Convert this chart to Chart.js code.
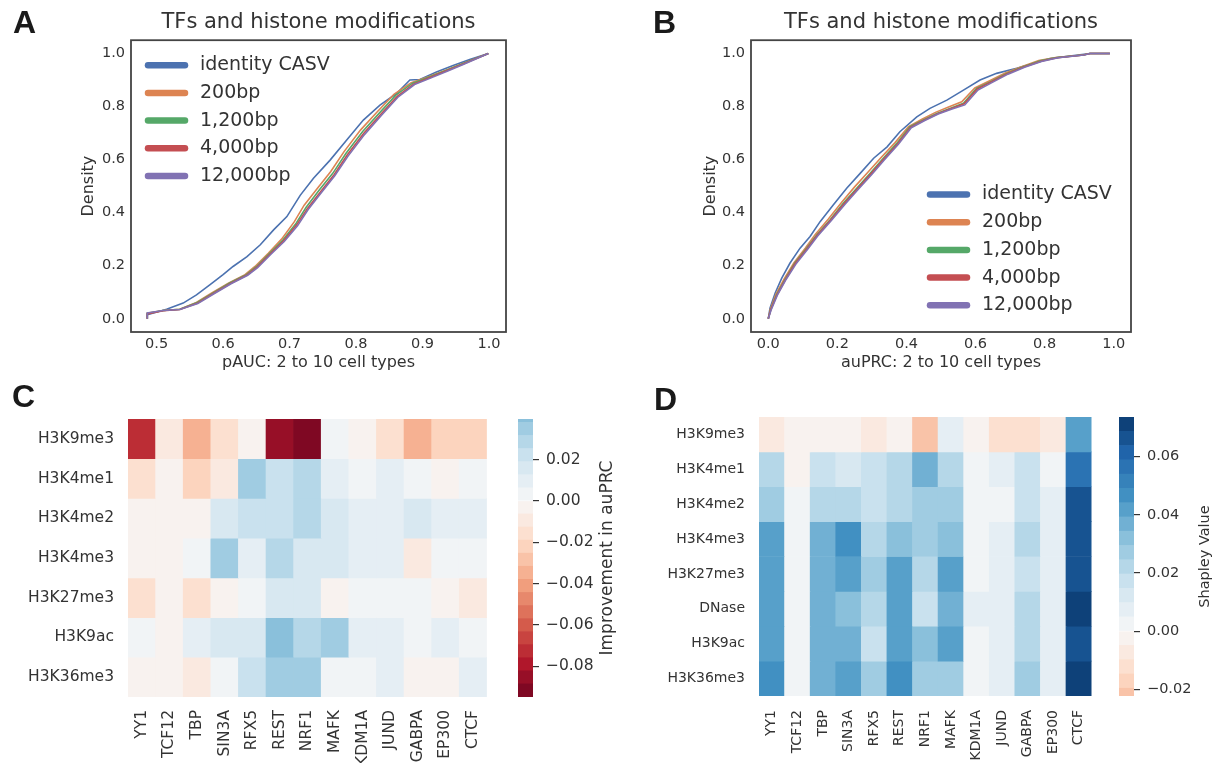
<!DOCTYPE html>
<html>
<head>
<meta charset="utf-8">
<script src="https://cdn.jsdelivr.net/npm/chart.js@4.4.1/dist/chart.umd.min.js"></script>
<style>
  body { margin: 0; background: #fff; }
  #page { position: relative; width: 1213px; height: 763px; overflow: hidden; background: #fff; }
  canvas { position: absolute; }
  .tag { position: absolute; font-family: 'Liberation Sans', Arial, sans-serif; font-weight: bold;
         font-size: 32px; line-height: 32px; color: #1a1a1a; }
</style>
</head>
<body>
<div id="page">
  <canvas id="chartA" width="600" height="380" style="left:0;top:0"></canvas>
  <canvas id="chartB" width="593" height="380" style="left:620px;top:0"></canvas>
  <canvas id="chartC" width="505" height="383" style="left:0;top:380px"></canvas>
  <canvas id="barC" width="100" height="383" style="left:518px;top:380px"></canvas>
  <canvas id="chartD" width="490" height="383" style="left:620px;top:380px"></canvas>
  <canvas id="barD" width="94" height="383" style="left:1119px;top:380px"></canvas>
  <div class="tag" style="left:13px;top:6px">A</div>
  <div class="tag" style="left:653px;top:6px">B</div>
  <div class="tag" style="left:12px;top:380px">C</div>
  <div class="tag" style="left:654px;top:383px">D</div>
</div>
<script>
// ---- data ----
var curveNames = ['identity CASV', '200bp', '1,200bp', '4,000bp', '12,000bp'];
var curveColors = ['#4c72b0', '#dd8452', '#55a868', '#c44e52', '#8172b3'];

// panel A: pAUC ECDF, [x, y]
var paucIdentity = [[0.486,0.0],[0.486,0.015],[0.515,0.036],[0.540,0.059],[0.560,0.090],[0.580,0.128],[0.600,0.166],[0.615,0.197],[0.636,0.234],[0.656,0.279],[0.676,0.335],[0.696,0.385],[0.716,0.465],[0.736,0.530],[0.761,0.598],[0.786,0.674],[0.811,0.749],[0.836,0.805],[0.861,0.849],[0.881,0.900],[0.896,0.902],[0.921,0.930],[0.946,0.955],[0.971,0.977],[0.999,1.0]];
var pauc200 = [[0.486,0.0],[0.486,0.021],[0.510,0.031],[0.535,0.036],[0.558,0.059],[0.583,0.097],[0.608,0.134],[0.633,0.166],[0.648,0.197],[0.668,0.247],[0.688,0.300],[0.707,0.365],[0.722,0.428],[0.742,0.492],[0.762,0.555],[0.782,0.630],[0.807,0.712],[0.832,0.780],[0.857,0.846],[0.883,0.890],[0.910,0.913],[0.936,0.938],[0.961,0.962],[0.999,1.0]];
var pauc1200 = [[0.486,0.0],[0.486,0.020],[0.510,0.031],[0.535,0.036],[0.560,0.060],[0.585,0.097],[0.610,0.135],[0.635,0.166],[0.650,0.196],[0.670,0.247],[0.690,0.297],[0.710,0.360],[0.725,0.420],[0.745,0.486],[0.765,0.548],[0.785,0.624],[0.810,0.706],[0.835,0.775],[0.860,0.843],[0.885,0.888],[0.911,0.912],[0.936,0.937],[0.961,0.962],[0.999,1.0]];
var pauc4000 = [[0.486,0.0],[0.486,0.018],[0.510,0.030],[0.535,0.035],[0.561,0.058],[0.586,0.096],[0.611,0.133],[0.636,0.165],[0.651,0.195],[0.671,0.245],[0.691,0.294],[0.711,0.355],[0.727,0.416],[0.747,0.480],[0.767,0.543],[0.787,0.618],[0.812,0.700],[0.837,0.770],[0.862,0.838],[0.887,0.885],[0.912,0.910],[0.937,0.936],[0.962,0.961],[0.999,1.0]];
var pauc12000 = [[0.486,0.0],[0.486,0.022],[0.510,0.031],[0.535,0.035],[0.562,0.057],[0.587,0.095],[0.612,0.132],[0.637,0.164],[0.652,0.193],[0.672,0.243],[0.692,0.291],[0.712,0.350],[0.728,0.412],[0.748,0.476],[0.768,0.539],[0.788,0.613],[0.813,0.695],[0.838,0.766],[0.863,0.835],[0.888,0.883],[0.913,0.908],[0.938,0.934],[0.963,0.960],[0.999,1.0]];

// panel B: auPRC ECDF, [x, y]
var auprcIdentity = [[0,0],[0.005,0.040],[0.020,0.097],[0.039,0.153],[0.063,0.210],[0.092,0.266],[0.121,0.310],[0.150,0.366],[0.188,0.429],[0.227,0.492],[0.266,0.548],[0.305,0.605],[0.344,0.648],[0.381,0.705],[0.430,0.761],[0.468,0.793],[0.517,0.824],[0.565,0.862],[0.613,0.900],[0.661,0.925],[0.719,0.944],[0.767,0.962],[0.816,0.981],[0.873,0.990],[0.931,1.0],[0.989,1.0]];
var auprc200 = [[0,0],[0.006,0.036],[0.022,0.092],[0.046,0.150],[0.074,0.210],[0.107,0.266],[0.136,0.318],[0.174,0.376],[0.212,0.438],[0.250,0.497],[0.289,0.553],[0.328,0.610],[0.367,0.664],[0.406,0.724],[0.445,0.752],[0.484,0.778],[0.522,0.798],[0.560,0.818],[0.598,0.870],[0.638,0.895],[0.686,0.926],[0.735,0.951],[0.783,0.973],[0.832,0.985],[0.910,0.994],[0.931,1.0],[0.989,1.0]];
var auprc1200 = [[0,0],[0.007,0.034],[0.024,0.090],[0.048,0.147],[0.077,0.210],[0.111,0.266],[0.140,0.316],[0.179,0.373],[0.217,0.435],[0.256,0.492],[0.295,0.548],[0.333,0.605],[0.372,0.661],[0.410,0.724],[0.449,0.749],[0.488,0.774],[0.526,0.793],[0.565,0.812],[0.603,0.868],[0.642,0.893],[0.690,0.925],[0.738,0.950],[0.787,0.972],[0.835,0.985],[0.912,0.994],[0.931,1.0],[0.989,1.0]];
var auprc4000 = [[0,0],[0.007,0.033],[0.025,0.089],[0.049,0.146],[0.078,0.208],[0.112,0.264],[0.141,0.314],[0.180,0.371],[0.219,0.433],[0.258,0.490],[0.297,0.546],[0.335,0.603],[0.374,0.659],[0.412,0.722],[0.451,0.748],[0.490,0.773],[0.528,0.792],[0.567,0.810],[0.605,0.866],[0.644,0.892],[0.692,0.924],[0.740,0.949],[0.789,0.971],[0.837,0.984],[0.913,0.994],[0.931,1.0],[0.989,1.0]];
var auprc12000 = [[0,0],[0.008,0.032],[0.026,0.088],[0.050,0.145],[0.080,0.206],[0.114,0.262],[0.143,0.312],[0.182,0.369],[0.221,0.430],[0.260,0.487],[0.299,0.543],[0.337,0.600],[0.376,0.657],[0.414,0.720],[0.453,0.747],[0.492,0.772],[0.530,0.790],[0.569,0.806],[0.607,0.862],[0.646,0.889],[0.694,0.922],[0.742,0.948],[0.791,0.970],[0.839,0.984],[0.914,0.994],[0.931,1.0],[0.989,1.0]];

var densityTicks = [0, 0.2, 0.4, 0.6, 0.8, 1.0];
var paucTicks = [0.5, 0.6, 0.7, 0.8, 0.9, 1.0];
var auprcTicks = [0, 0.2, 0.4, 0.6, 0.8, 1.0];

// panels C and D: heatmaps
var tfs = ['YY1', 'TCF12', 'TBP', 'SIN3A', 'RFX5', 'REST', 'NRF1', 'MAFK', 'KDM1A', 'JUND', 'GABPA', 'EP300', 'CTCF'];
var marksC = ['H3K9me3', 'H3K4me1', 'H3K4me2', 'H3K4me3', 'H3K27me3', 'H3K9ac', 'H3K36me3'];
var improvementC = [
  [-0.0728,-0.0095,-0.0348,-0.0158,-0.0032,-0.0854,-0.0949,0.0032,-0.0032,-0.0158,-0.0348,-0.0221,-0.0221],
  [-0.0158,-0.0032,-0.0221,-0.0095,0.0348,0.0221,0.0285,0.0095,0.0032,0.0095,0.0032,-0.0032,0.0032],
  [-0.0032,-0.0032,-0.0032,0.0158,0.0221,0.0221,0.0285,0.0158,0.0095,0.0095,0.0158,0.0095,0.0095],
  [-0.0032,-0.0032,0.0032,0.0348,0.0095,0.0285,0.0158,0.0158,0.0095,0.0095,-0.0095,0.0032,0.0032],
  [-0.0158,-0.0032,-0.0158,-0.0032,0.0032,0.0158,0.0158,-0.0032,0.0032,0.0032,0.0032,-0.0032,-0.0095],
  [0.0032,-0.0032,0.0095,0.0158,0.0158,0.0396,0.0285,0.0348,0.0095,0.0095,0.0032,0.0095,0.0032],
  [-0.0032,-0.0032,-0.0095,0.0032,0.0221,0.0348,0.0348,0.0032,0.0032,0.0095,-0.0032,-0.0032,0.0095]
];
var marksD = ['H3K9me3', 'H3K4me1', 'H3K4me2', 'H3K4me3', 'H3K27me3', 'DNase', 'H3K9ac', 'H3K36me3'];
var shapleyD = [
  [-0.0074,-0.0025,-0.0025,-0.0025,-0.0074,-0.0025,-0.0223,0.0074,-0.0025,-0.0123,-0.0123,-0.0074,0.0417],
  [0.0221,-0.0025,0.0172,0.0123,0.0172,0.0221,0.0368,0.0221,0.0025,0.0074,0.0172,0.0025,0.0564],
  [0.0270,0.0025,0.0221,0.0221,0.0172,0.0221,0.0270,0.0270,0.0025,0.0025,0.0172,0.0074,0.0662],
  [0.0417,0.0025,0.0368,0.0466,0.0221,0.0319,0.0270,0.0319,0.0025,0.0074,0.0221,0.0074,0.0662],
  [0.0417,0.0025,0.0368,0.0417,0.0270,0.0417,0.0221,0.0417,0.0025,0.0074,0.0172,0.0074,0.0662],
  [0.0417,0.0025,0.0368,0.0319,0.0221,0.0417,0.0172,0.0368,0.0074,0.0074,0.0221,0.0074,0.0736],
  [0.0417,0.0025,0.0368,0.0368,0.0172,0.0417,0.0319,0.0417,0.0025,0.0074,0.0221,0.0074,0.0662],
  [0.0466,0.0025,0.0368,0.0417,0.0270,0.0466,0.0270,0.0270,0.0025,0.0074,0.0270,0.0074,0.0711]
];
var cbarTicksC = [-0.08, -0.06, -0.04, -0.02, 0.00, 0.02];
var cbarTicksD = [-0.02, 0.00, 0.02, 0.04, 0.06];

// ---- colour map: RdBu cut into 30 steps, centred on zero ----
var rdbu = [[103,0,31],[178,24,43],[214,96,77],[244,165,130],[253,219,199],[247,247,247],
            [209,229,240],[146,197,222],[67,147,195],[33,102,172],[5,48,97]];
var NBANDS = 30;
function rdbuAt(t) {
  var s = t * 10, k = Math.min(9, Math.floor(s)), f = s - k;
  var a = rdbu[k], b = rdbu[k + 1];
  return 'rgb(' + [0, 1, 2].map(function (j) { return Math.round(a[j] + (b[j] - a[j]) * f); }).join(',') + ')';
}
var palette = [];
for (var i = 0; i < NBANDS; i++) palette.push(rdbuAt((i + 1) / (NBANDS + 1)));

function valueRange(m) {
  var all = [].concat.apply([], m);
  var lo = Math.min.apply(null, all), hi = Math.max.apply(null, all);
  return { vmin: lo, vmax: hi, half: Math.max(-lo, hi) };
}
function bandOf(v, half) {
  return Math.max(0, Math.min(NBANDS - 1, Math.floor((v + half) / (2 * half) * NBANDS)));
}

Chart.defaults.font.family = "'DejaVu Sans', sans-serif";
Chart.defaults.color = '#333';

// ---- small plugins ----
var frame = {
  id: 'frame',
  afterDraw: function (chart) {
    var a = chart.chartArea, ctx = chart.ctx;
    ctx.save();
    ctx.strokeStyle = '#444';
    ctx.lineWidth = 1.8;
    ctx.strokeRect(a.left, a.top, a.right - a.left, a.bottom - a.top);
    ctx.restore();
  }
};

var insideLegend = {
  id: 'insideLegend',
  afterDraw: function (chart, args, o) {
    var a = chart.chartArea, ctx = chart.ctx;
    ctx.save();
    ctx.font = o.size + "px 'DejaVu Sans'";
    ctx.textBaseline = 'middle';
    chart.data.datasets.forEach(function (ds, i) {
      var x = a.left + o.x, y = a.top + o.y + i * o.gap;
      ctx.strokeStyle = ds.borderColor;
      ctx.lineWidth = 6.5;
      ctx.lineCap = 'round';
      ctx.beginPath();
      ctx.moveTo(x + 3, y);
      ctx.lineTo(x + 40, y);
      ctx.stroke();
      ctx.fillStyle = '#333';
      ctx.fillText(ds.label, x + 55, y);
    });
    ctx.restore();
  }
};

var cbLabel = {
  id: 'cbLabel',
  afterDraw: function (chart, args, o) {
    var a = chart.chartArea, ctx = chart.ctx;
    ctx.save();
    ctx.translate(a.right + o.offset, (a.top + a.bottom) / 2);
    ctx.rotate(-Math.PI / 2);
    ctx.font = o.size + "px 'DejaVu Sans'";
    ctx.fillStyle = '#333';
    ctx.textAlign = 'center';
    ctx.textBaseline = 'middle';
    ctx.fillText(o.text, 0, 0);
    ctx.restore();
  }
};

// ---- ECDF panels ----
function ecdfChart(id, curves, xMin, xMax, xTicks, xTitle, lay) {
  new Chart(document.getElementById(id), {
    type: 'line',
    data: {
      datasets: curves.map(function (c, i) {
        return { label: curveNames[i], data: c, borderColor: curveColors[i], borderWidth: 1.6,
                 pointRadius: 0, tension: 0, fill: false, order: curves.length - i };
      })
    },
    options: {
      responsive: false,
      animation: false,
      layout: { padding: lay.padding },
      plugins: {
        legend: { display: false },
        tooltip: { enabled: false },
        title: { display: true, text: 'TFs and histone modifications', fullSize: false,
                 font: { size: 21, weight: 'normal' }, color: '#333', padding: { top: 10, bottom: 5 } },
        insideLegend: lay.legend
      },
      scales: {
        x: {
          type: 'linear', min: xMin, max: xMax,
          grid: { display: false, drawTicks: false }, border: { display: false },
          afterBuildTicks: function (s) { s.ticks = xTicks.map(function (v) { return { value: v }; }); },
          afterFit: function (s) { s.height = 48; },
          ticks: { autoSkip: false, maxRotation: 0, font: { size: 14.5 }, padding: 4,
                   callback: function (v) { return v.toFixed(1); } },
          title: { display: true, text: xTitle, font: { size: 16 }, padding: { top: 0, bottom: 8 } }
        },
        y: {
          min: -0.05, max: 1.05,
          grid: { display: false, drawTicks: false }, border: { display: false },
          afterBuildTicks: function (s) { s.ticks = densityTicks.map(function (v) { return { value: v }; }); },
          afterFit: function (s) { s.width = lay.yWidth; },
          ticks: { font: { size: 14.5 }, padding: 6, callback: function (v) { return v.toFixed(1); } },
          title: { display: true, text: 'Density', font: { size: 16 }, padding: { top: lay.yTitlePad, bottom: 0 } }
        }
      }
    },
    plugins: [frame, insideLegend]
  });
}

ecdfChart('chartA', [paucIdentity, pauc200, pauc1200, pauc4000, pauc12000], 0.4615, 1.0256, paucTicks,
  'pAUC: 2 to 10 cell types',
  { padding: { left: 70, right: 94, top: 0, bottom: 0 }, yWidth: 61, yTitlePad: 9,
    legend: { x: 14, y: 25, gap: 27.7, size: 19 } });

ecdfChart('chartB', [auprcIdentity, auprc200, auprc1200, auprc4000, auprc12000], -0.05, 1.05, auprcTicks,
  'auPRC: 2 to 10 cell types',
  { padding: { left: 81, right: 82, top: 0, bottom: 0 }, yWidth: 50, yTitlePad: 0,
    legend: { x: 176, y: 154.3, gap: 27.7, size: 19 } });

// ---- heatmaps ----
function heatmap(id, rows, cols, values, o) {
  var r = valueRange(values);
  new Chart(document.getElementById(id), {
    type: 'bar',
    data: {
      labels: cols,
      datasets: rows.map(function (name, i) {
        return {
          label: name,
          data: cols.map(function () { return [i - 0.5, i + 0.5]; }),
          backgroundColor: values[i].map(function (v) { return palette[bandOf(v, r.half)]; }),
          borderWidth: 0
        };
      })
    },
    options: {
      responsive: false,
      animation: false,
      layout: { padding: o.padding },
      datasets: { bar: { barPercentage: 1, categoryPercentage: 1, grouped: false } },
      plugins: { legend: { display: false }, tooltip: { enabled: false } },
      scales: {
        x: {
          grid: { display: false, drawTicks: false }, border: { display: false },
          afterFit: function (s) { s.height = o.xHeight; },
          ticks: { autoSkip: false, maxRotation: 90, minRotation: 90, padding: o.xPad, font: { size: o.font } }
        },
        y: {
          type: 'linear', reverse: true, min: -0.5, max: rows.length - 0.5,
          grid: { display: false, drawTicks: false }, border: { display: false },
          afterBuildTicks: function (s) { s.ticks = rows.map(function (n, k) { return { value: k }; }); },
          afterFit: function (s) { s.width = o.yWidth; },
          ticks: { padding: 14, font: { size: o.font }, callback: function (v) { return rows[v]; } }
        }
      }
    }
  });
}

function colorbar(id, values, ticks, label, o) {
  var r = valueRange(values), w = 2 * r.half / NBANDS;
  new Chart(document.getElementById(id), {
    type: 'bar',
    data: {
      labels: [''],
      datasets: palette.map(function (c, i) {
        return { data: [[-r.half + i * w, -r.half + (i + 1) * w]], backgroundColor: c, borderWidth: 0, clip: 0 };
      })
    },
    options: {
      responsive: false,
      animation: false,
      layout: { padding: o.padding },
      datasets: { bar: { barPercentage: 1, categoryPercentage: 1, grouped: false } },
      plugins: { legend: { display: false }, tooltip: { enabled: false },
                 cbLabel: { text: label, offset: o.labelOffset, size: o.labelSize } },
      scales: {
        x: { display: false },
        y: {
          position: 'right', min: r.vmin, max: r.vmax,
          grid: { drawOnChartArea: false, drawTicks: true, tickLength: 6, color: '#333', lineWidth: 1.2 },
          border: { display: false },
          afterBuildTicks: function (s) { s.ticks = ticks.map(function (v) { return { value: v }; }); },
          afterFit: function (s) { s.width = o.yWidth; },
          ticks: { padding: 7, font: { size: o.font },
                   callback: function (v) { return (v < -1e-9 ? '\u2212' : '') + Math.abs(v).toFixed(2); } }
        }
      }
    },
    plugins: [cbLabel]
  });
}

heatmap('chartC', marksC, tfs, improvementC,
  { padding: { top: 39, right: 9, left: 0, bottom: 0 }, yWidth: 128, xHeight: 66, xPad: 13, font: 15.5 });
colorbar('barC', improvementC, cbarTicksC, 'Improvement in auPRC',
  { padding: { top: 39, bottom: 66, left: 0, right: 0 }, yWidth: 85, font: 15.5, labelOffset: 75, labelSize: 17 });

heatmap('chartD', marksD, tfs, shapleyD,
  { padding: { top: 37, right: 11, left: 0, bottom: 0 }, yWidth: 139, xHeight: 67, xPad: 14, font: 14 });
colorbar('barD', shapleyD, cbarTicksD, 'Shapley Value',
  { padding: { top: 37, bottom: 67, left: 0, right: 0 }, yWidth: 79, font: 14.5, labelOffset: 71, labelSize: 14.5 });
</script>
</body>
</html>
